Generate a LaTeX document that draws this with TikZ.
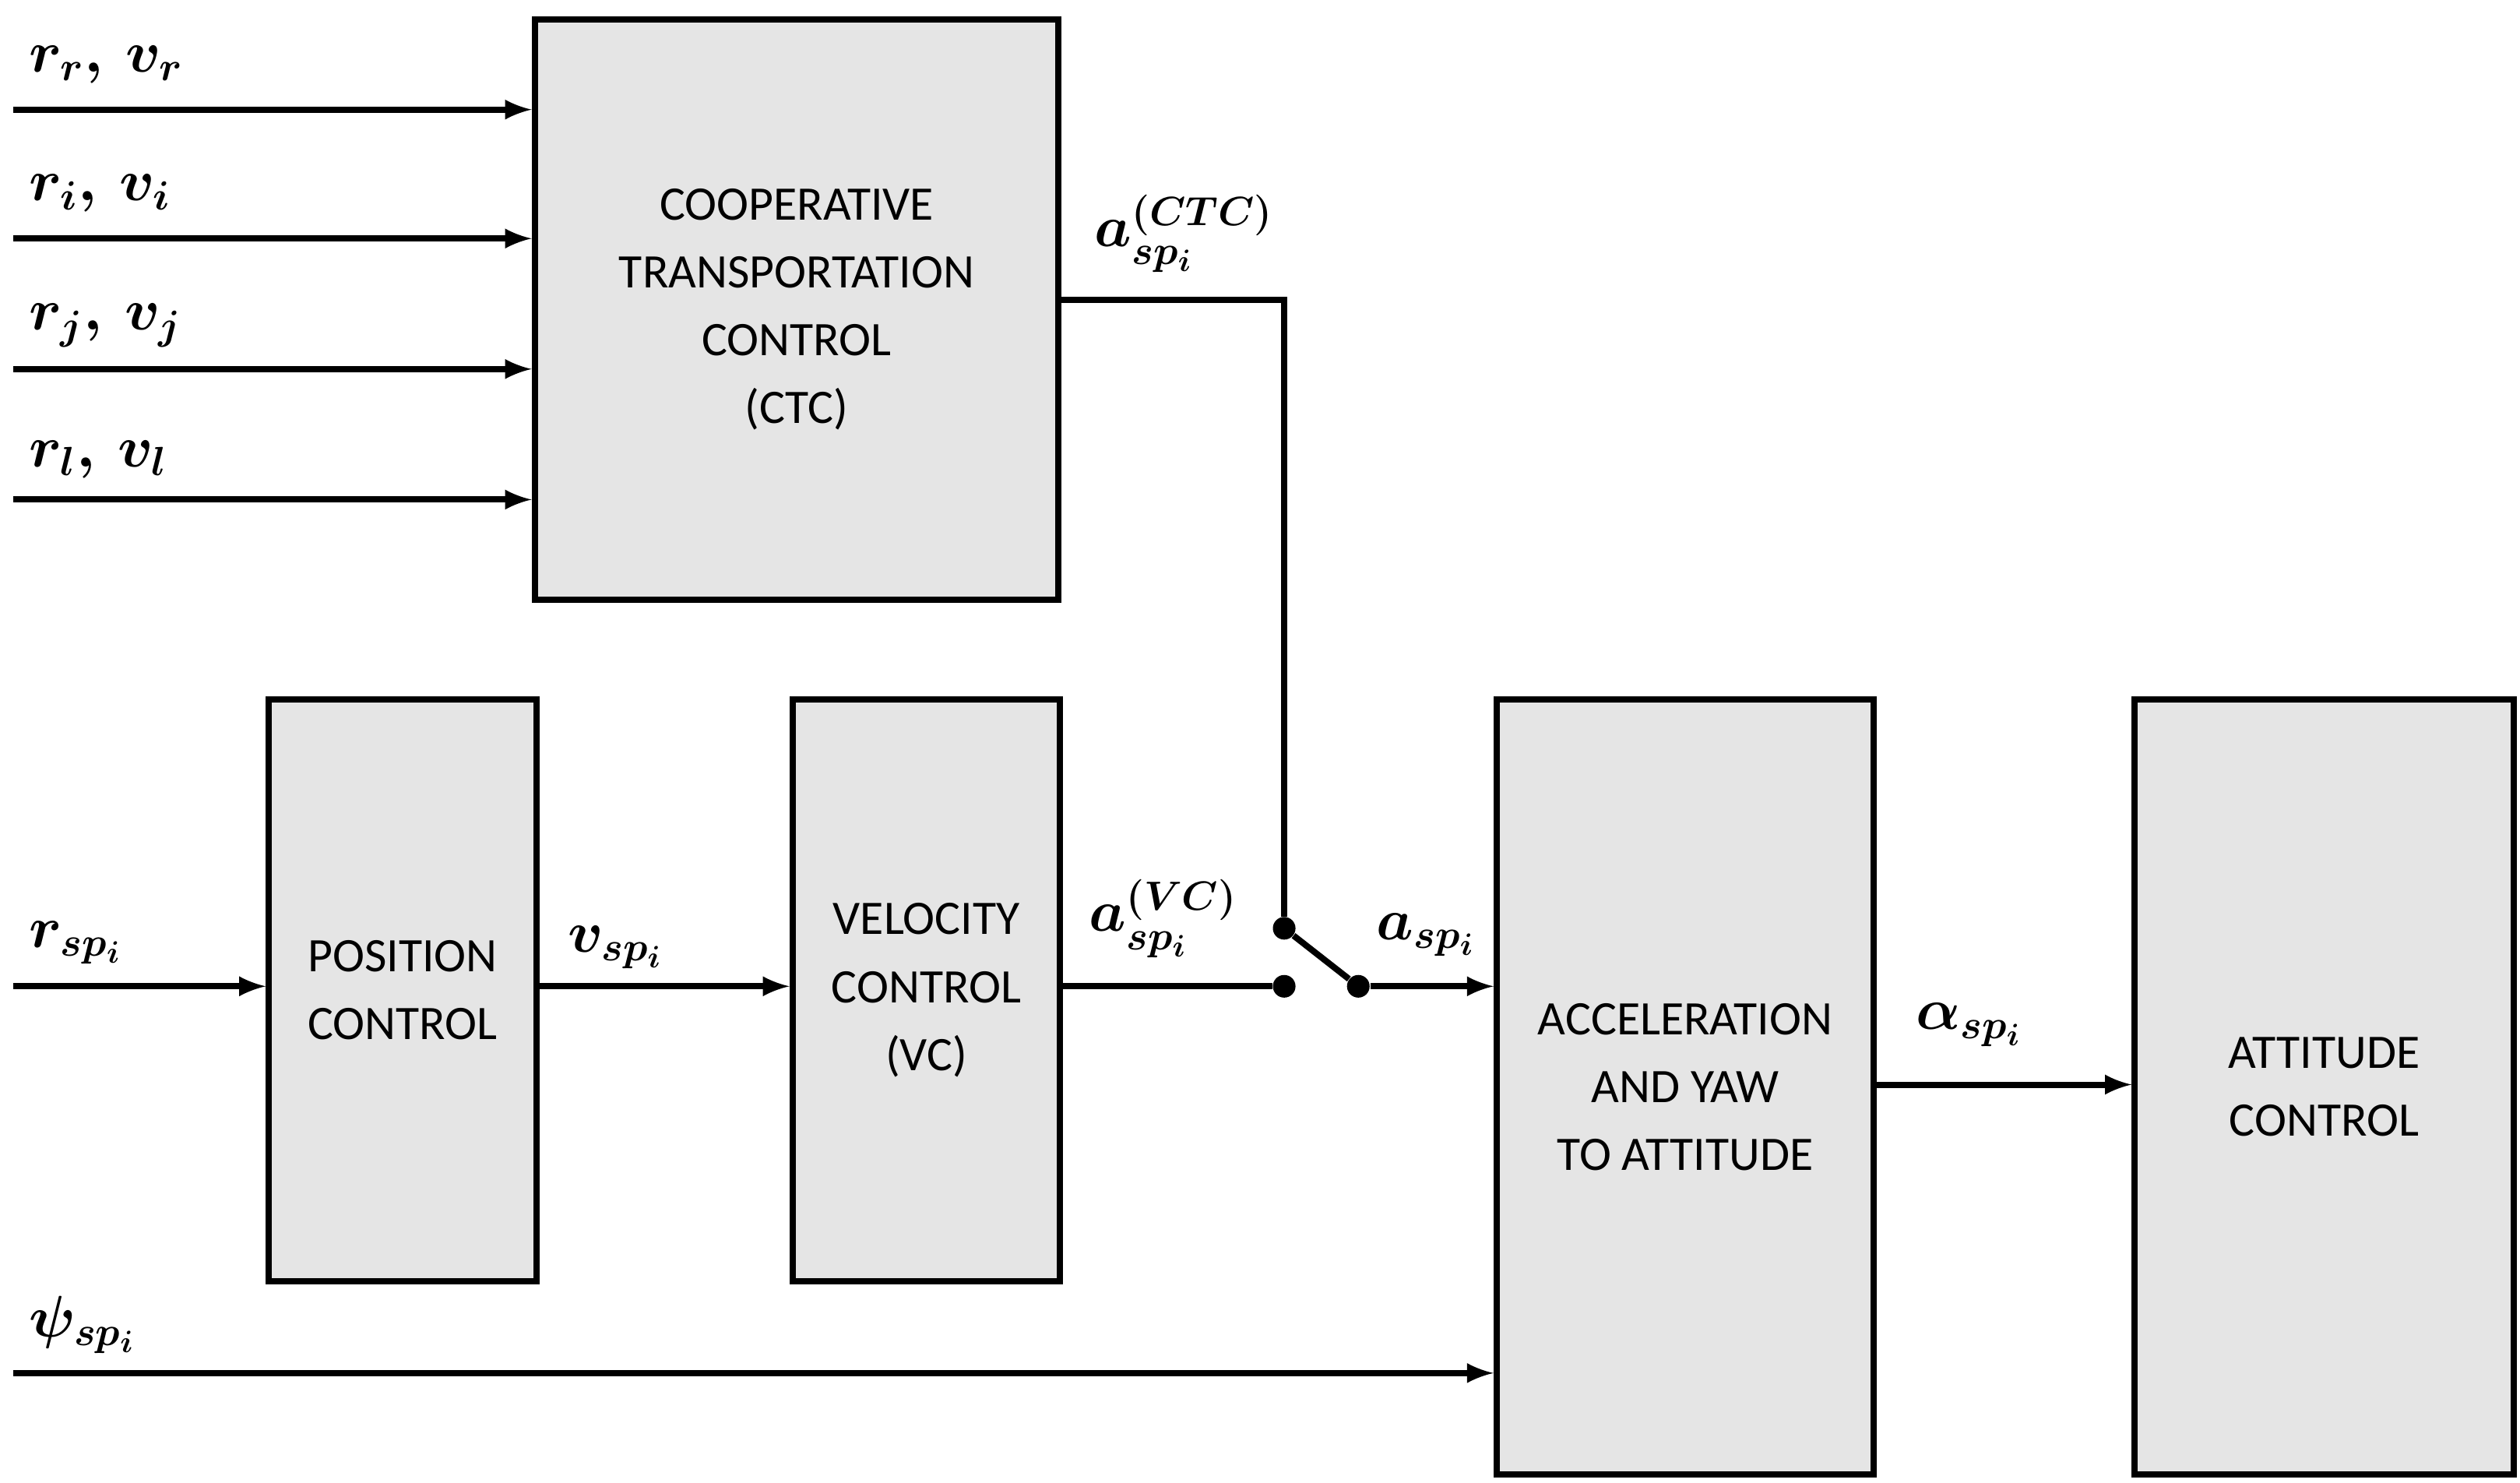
\documentclass[tikz,border=0pt]{standalone}
\usepackage{fontspec}
\setmainfont{Carlito}
\usepackage{amsmath,bm}
\usetikzlibrary{positioning}

\begin{document}
\begin{tikzpicture}[x=0.02cm,y=-0.02cm,
    blk/.style={draw, line width=2.2pt, fill=gray!20, anchor=north west, align=center, inner sep=0pt, font=\fontsize{17}{24}\selectfont},
    sig/.style={line width=2.2pt, -latex},
    wire/.style={line width=2.2pt},
    lbl/.style={font=\fontsize{21}{24}\selectfont\mathversion{bold}, inner sep=0pt},
    dot/.style={circle, fill, inner sep=0pt, minimum size=8pt}]
    \useasboundingbox (0,0) rectangle (1564,920);

    % Blocks
    \node[blk, minimum width=325*0.02cm, minimum height=360*0.02cm] (ctc) at (330,10) {COOPERATIVE\\TRANSPORTATION\\CONTROL\\(CTC)};
    \node[blk, minimum width=166*0.02cm, minimum height=361*0.02cm] (pc) at (165,432) {POSITION\\CONTROL};
    \node[blk, minimum width=166*0.02cm, minimum height=361*0.02cm] (vc) at (490,432) {VELOCITY\\CONTROL\\(VC)};
    \node[blk, minimum width=234*0.02cm, minimum height=481*0.02cm] (acc) at (927,432) {ACCELERATION\\AND YAW\\TO ATTITUDE};
    \node[blk, minimum width=235*0.02cm, minimum height=481*0.02cm] (att) at (1323,432) {ATTITUDE\\CONTROL};

    % Inputs of the CTC
    \foreach \y/\n in {68/r, 148/i, 229/j, 310/l} {
        \coordinate (in-\n) at (8,\y);
        \draw[sig] (in-\n) -- (in-\n -| ctc.west);
    }
    \node[lbl, anchor=west] at (18,40) {$\bm{r}_r,\,\bm{v}_r$};
    \node[lbl, anchor=west] at (18,120) {$\bm{r}_i,\,\bm{v}_i$};
    \node[lbl, anchor=west] at (18,202) {$\bm{r}_j,\,\bm{v}_j$};
    \node[lbl, anchor=west] at (18,285) {$\bm{r}_l,\,\bm{v}_l$};

    % Lower chain
    \coordinate (in-rsp) at (8,612);
    \draw[sig] (in-rsp) -- (in-rsp -| pc.west);
    \node[lbl, anchor=west] at (18,585) {$\bm{r}_{sp_i}$};
    \draw[sig] (pc.east |- in-rsp) -- (vc.west |- in-rsp);
    \node[lbl] at (382,588) {$\bm{v}_{sp_i}$};

    % Switch
    \node[dot] (sw-vc) at (797,612) {};
    \node[dot] (sw-ctc) at (797,576) {};
    \node[dot] (sw-out) at (843,612) {};
    \draw[wire] (vc.east |- sw-vc) -- (sw-vc);
    \draw[wire] (ctc.east |- 0,186) -- (797,186) -- (sw-ctc);
    \draw[wire] (sw-ctc) -- (sw-out);
    \draw[sig] (sw-out) -- (acc.west |- sw-out);
    \node[lbl] at (722,570) {$\bm{a}_{sp_i}^{(VC)}$};
    \node[lbl] at (735,145) {$\bm{a}_{sp_i}^{(CTC)}$};
    \node[lbl] at (885,580) {$\bm{a}_{sp_i}$};

    % Yaw and attitude
    \coordinate (in-psi) at (8,852);
    \draw[sig] (in-psi) -- (in-psi -| acc.west);
    \node[lbl, anchor=west] at (18,822) {$\psi_{sp_i}$};
    \draw[sig] (acc.east |- 0,673) -- (att.west |- 0,673);
    \node[lbl] at (1222,636) {$\bm{\alpha}_{sp_i}$};
\end{tikzpicture}
\end{document}
